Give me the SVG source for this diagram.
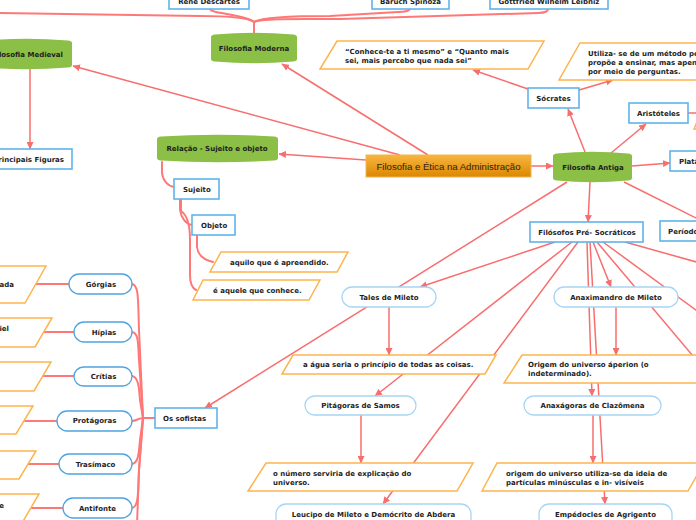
<svg xmlns="http://www.w3.org/2000/svg" width="696" height="520" viewBox="0 0 696 520">
<defs>
<linearGradient id="gMain" x1="0" y1="0" x2="0" y2="1">
<stop offset="0" stop-color="#f7b640"/><stop offset="1" stop-color="#dc8700"/>
</linearGradient>
<marker id="arr" markerUnits="userSpaceOnUse" markerWidth="8" markerHeight="7" refX="7" refY="3.5" orient="auto">
<path d="M0,0 L7.5,3.5 L0,7 z" fill="#f86e6e"/>
</marker>
</defs>
<style>
.t{font-family:"DejaVu Sans",Verdana,sans-serif;font-weight:bold;font-size:7px;fill:#1e1e1e}
.c{text-anchor:middle}
.e{text-anchor:end}
.box{fill:#fff;stroke:#5fb3ea;stroke-width:1.6}
.pill{fill:#fff;stroke:#a8d5f4;stroke-width:1.3}
.pill2{fill:#fff;stroke:#4ea4e2;stroke-width:1.3}
.para{fill:#fff;stroke:#fdb44c;stroke-width:1.5}
.green{fill:#8bbf46}
.ln{fill:none;stroke:#f86e6e;stroke-width:1.5;marker-end:url(#arr)}
.pl{fill:none;stroke:#f86e6e;stroke-width:1.5}
.tr{fill:none;stroke:#ff7878;stroke-width:2;stroke-linecap:round}
</style>

<g id="connectors">
<path class="ln" d="M400,155 L73,66"/>
<path class="ln" d="M428,155 L282,64"/>
<path class="ln" d="M366,160 L279,154"/>
<path class="ln" d="M531,166 L553,166"/>
<path class="ln" d="M585,152 L568,109"/>
<path class="ln" d="M611,153 L646,124"/>
<path class="ln" d="M632,166 L670,163"/>
<path class="pl" d="M624,182 L700,220"/>
<path class="ln" d="M590,182 L588,222"/>
<path class="ln" d="M567,182 L205,408"/>
<path class="ln" d="M528,89 L473,70"/>
<path class="ln" d="M579,90 L613,80"/>
<path class="pl" d="M688,113 L700,113"/>
<path class="ln" d="M555,242 L420,287"/>
<path class="ln" d="M572,242 L375,396"/>
<path class="ln" d="M578,242 L383,504"/>
<path class="ln" d="M587,242 L592,396"/>
<path class="ln" d="M590,242 L605,504"/>
<path class="ln" d="M593,242 L611,287"/>
<path class="pl" d="M597,242 L740,412"/>
<path class="pl" d="M603,242 L700,313"/>
<path class="pl" d="M625,242 L700,263"/>
<path class="ln" d="M389,307 L389,355"/>
<path class="ln" d="M361,415 L361,463"/>
<path class="ln" d="M616,307 L616,355"/>
<path class="ln" d="M593,415 L593,463"/>
<path class="ln" d="M30,69 L30,149"/>
<!-- Filosofia Moderna tree -->
<path class="tr" d="M254,33 L254,22"/>
<path class="tr" d="M210,9 C211,14 245,14 254,22"/>
<path class="tr" d="M254,22 C248,17 225,16 200,16 L-5,13"/>
<path class="tr" d="M254,22 C262,17 300,16 330,16 L398,12 C405,12 409,11 410,9"/>
<path class="tr" d="M254,22 C262,18 300,19 340,19 L538,13 C545,13 548,11 548,9"/>
<!-- Relação tree -->
<path class="tr" d="M162,162 L162,173 C163,181 168,186 174,187"/>
<path class="tr" d="M180,199 L180,210 C181,218 186,224 192,225"/>
<path class="tr" d="M181,199 L181,211 C187,215 190,224 190,240 L190,275 C190,283 192,288 196,290"/>
<path class="tr" d="M197,235 L197,247 C198,255 204,260 213,262"/>
<!-- Os sofistas tree -->
<path class="tr" d="M155,418 L143,418"/>
<path class="tr" d="M132,284 C139,285 138,300 139,330 L143,418"/>
<path class="tr" d="M132,332 C139,333 138,345 139,360 L143,418"/>
<path class="tr" d="M132,376 C139,377 139,390 140,400 L143,418"/>
<path class="tr" d="M132,421 C136,421 139,418 143,418"/>
<path class="tr" d="M132,464 C139,463 139,450 140,440 L143,418"/>
<path class="tr" d="M132,508 C139,507 138,490 139,470 L143,418"/>
<path class="tr" d="M143,418 L139,470 L137,525"/>
<path class="tr" d="M69,284 L36,284"/>
<path class="tr" d="M74,332 L44,332"/>
<path class="tr" d="M74,376 L43,376"/>
<path class="tr" d="M57,421 L25,421"/>
<path class="tr" d="M59,464 L28,464"/>
<path class="tr" d="M63,508 L31,508"/>
</g>

<g id="n-main">
<rect x="366" y="155" width="165" height="22" fill="url(#gMain)" stroke="#f0b650" stroke-width="1"/>
<text x="448.5" y="169.5" text-anchor="middle" font-family="'Liberation Sans',Arial,sans-serif" font-size="9.6" fill="#2e2410">Filosofia e Ética na Administração</text>
</g>

<g id="n-antiga">
<path class="green" d="M553,156 Q553,154 557,153.5 Q592,150 628,153.5 Q632,154 632,156 L632,178 Q632,180 628,180.5 Q592,184 557,180.5 Q553,180 553,178 Z"/>
<text class="t c" x="593" y="169.5">Filosofia Antiga</text>
</g>
<g id="n-moderna">
<path class="green" d="M211,37 Q211,35 215,34.5 Q254,31 293,34.5 Q297,35 297,37 L297,59 Q297,61 293,61.5 Q254,65 215,61.5 Q211,61 211,59 Z"/>
<text class="t c" x="254" y="50.5">Filosofia Moderna</text>
</g>
<g id="n-medieval">
<path class="green" d="M-20,43 Q-20,41 -16,40.5 Q26,37 68,40.5 Q72,41 72,43 L72,65 Q72,67 68,67.5 Q26,71 -16,67.5 Q-20,67 -20,65 Z"/>
<text class="t e" x="63" y="56.5">Filosofia Medieval</text>
</g>
<g id="n-principais">
<rect class="box" x="-20" y="149" width="92" height="20"/>
<text class="t e" x="64" y="161.5">Principais Figuras</text>
</g>
<g id="n-relacao">
<path class="green" d="M157,139 Q157,137 161,136.5 Q217,133 274,136.5 Q278,137 278,139 L278,158 Q278,160 274,160.5 Q217,164 161,160.5 Q157,160 157,158 Z"/>
<text class="t c" x="217" y="150.5">Relação - Sujeito e objeto</text>
</g>
<g id="n-sujeito">
<rect class="box" x="174" y="179" width="45" height="20"/>
<text class="t" x="183" y="191.5">Sujeito</text>
</g>
<g id="n-objeto">
<rect class="box" x="192" y="215" width="43" height="20"/>
<text class="t" x="201" y="227.5">Objeto</text>
</g>
<g id="n-aquilo">
<polygon class="para" points="221,252 348,252 337,272 210,272"/>
<text class="t" x="230" y="265">aquilo que é apreendido.</text>
</g>
<g id="n-aquele">
<polygon class="para" points="203,280 320,280 309,300 193,300"/>
<text class="t" x="213" y="292.5">é aquele que conhece.</text>
</g>

<g id="n-descartes">
<rect class="box" x="169" y="-6" width="80" height="15"/>
<text class="t c" x="209" y="3.5">René Descartes</text>
</g>
<g id="n-spinoza">
<rect class="box" x="372" y="-6" width="77" height="15"/>
<text class="t c" x="410.5" y="3.5">Baruch Spinoza</text>
</g>
<g id="n-leibniz">
<rect class="box" x="490" y="-6" width="118" height="15"/>
<text class="t c" x="549" y="3.5">Gottfried Wilhelm Leibniz</text>
</g>

<g id="n-conhece">
<polygon class="para" points="337,41 544,41 528,69 320,69"/>
<text class="t" x="345" y="53.5">“Conhece-te a ti mesmo” e “Quanto mais</text>
<text class="t" x="345" y="62.5">sei, mais percebo que nada sei”</text>
</g>
<g id="n-utiliza">
<polygon class="para" points="580,43 780,43 759,80 559,80"/>
<text class="t" x="588" y="55.5">Utiliza- se de um método pelo</text>
<text class="t" x="588" y="64.5">propõe a ensinar, mas apenas</text>
<text class="t" x="588" y="73.5">por meio de perguntas.</text>
</g>
<g id="n-socrates">
<rect class="box" x="528" y="88" width="51" height="20"/>
<text class="t c" x="553.5" y="100.5">Sócrates</text>
</g>
<g id="n-aristoteles">
<rect class="box" x="629" y="103" width="59" height="20"/>
<text class="t c" x="658.5" y="115.5">Aristóteles</text>
</g>
<g id="n-arist-note">
<polygon class="para" points="706,100 900,100 880,129 694,129"/>
</g>
<g id="n-platao">
<rect class="box" x="670" y="151" width="60" height="20"/>
<text class="t" x="679" y="163.5">Platão</text>
</g>
<g id="n-periodo">
<rect class="box" x="660" y="221" width="70" height="20"/>
<text class="t" x="668" y="233.5">Período</text>
</g>
<g id="n-presocraticos">
<rect class="box" x="530" y="222" width="113" height="20"/>
<text class="t c" x="587" y="234.5">Filósofos Pré- Socráticos</text>
</g>

<g id="n-tales">
<rect class="pill" x="342" y="287" width="94" height="20" rx="10"/>
<text class="t c" x="389" y="299.5">Tales de Mileto</text>
</g>
<g id="n-agua">
<polygon class="para" points="293,355 496,355 485,374 282,374"/>
<text class="t" x="303" y="367">a água seria o princípio de todas as coisas.</text>
</g>
<g id="n-pitagoras">
<rect class="pill" x="305" y="396" width="111" height="19" rx="9.5"/>
<text class="t c" x="360.5" y="408">Pitágoras de Samos</text>
</g>
<g id="n-numero">
<polygon class="para" points="266,463 473,463 457,491 248,491"/>
<text class="t" x="273" y="475.5">o número serviria de explicação do</text>
<text class="t" x="273" y="484.5">universo.</text>
</g>
<g id="n-leucipo">
<rect class="pill" x="276" y="504" width="195" height="26" rx="10"/>
<text class="t c" x="373.5" y="517">Leucipo de Mileto e Demócrito de Abdera</text>
</g>

<g id="n-anaximandro">
<rect class="pill" x="554" y="287" width="124" height="20" rx="10"/>
<text class="t c" x="616" y="299.5">Anaximandro de Mileto</text>
</g>
<g id="n-aperion">
<polygon class="para" points="522,355 780,355 762,383 504,383"/>
<text class="t" x="528" y="366.5">Origem do universo áperion (o</text>
<text class="t" x="528" y="375.5">indeterminado).</text>
</g>
<g id="n-anaxagoras">
<rect class="pill" x="524" y="396" width="137" height="19" rx="9.5"/>
<text class="t c" x="592.5" y="408">Anaxágoras de Clazômena</text>
</g>
<g id="n-particulas">
<polygon class="para" points="497,463 704,463 688,491 482,491"/>
<text class="t" x="506" y="475.5">origem do universo utiliza-se da ideia de</text>
<text class="t" x="506" y="484.5">partículas minúsculas e in- visíveis</text>
</g>
<g id="n-empedocles">
<rect class="pill" x="539" y="504" width="133" height="26" rx="10"/>
<text class="t c" x="605.5" y="517">Empédocles de Agrigento</text>
</g>

<g id="n-sofistas">
<rect class="box" x="155" y="408" width="62" height="20"/>
<text class="t" x="163" y="420.5">Os sofistas</text>
</g>
<g id="n-gorgias">
<rect class="pill2" x="69" y="274" width="63" height="20" rx="10"/>
<text class="t c" x="101" y="286.8">Górgias</text>
</g>
<g id="n-gorgias-note">
<polygon class="para" points="-60,266 46,266 25,303 -80,303"/>
<text class="t e" x="14" y="286.8">rada</text>
</g>
<g id="n-hipias">
<rect class="pill2" x="74" y="322" width="58" height="20" rx="10"/>
<text class="t c" x="104" y="334.8">Hípias</text>
</g>
<g id="n-hipias-note">
<polygon class="para" points="-60,318 52,318 35,347 -80,347"/>
<text class="t e" x="9" y="330.5">iel</text>
</g>
<g id="n-critias">
<rect class="pill2" x="74" y="367" width="58" height="19" rx="9.5"/>
<text class="t c" x="103.5" y="378.8">Crítias</text>
</g>
<g id="n-critias-note">
<polygon class="para" points="-60,362 51,362 34,391 -80,391"/>
</g>
<g id="n-protagoras">
<rect class="pill2" x="57" y="411" width="75" height="20" rx="10"/>
<text class="t c" x="94.5" y="422.8">Protágoras</text>
</g>
<g id="n-protagoras-note">
<polygon class="para" points="-60,406 33,406 16,434 -80,434"/>
</g>
<g id="n-trasimaco">
<rect class="pill2" x="59" y="454" width="73" height="20" rx="10"/>
<text class="t c" x="95.5" y="466.8">Trasímaco</text>
</g>
<g id="n-trasimaco-note">
<polygon class="para" points="-60,451 36,451 19,479 -80,479"/>
</g>
<g id="n-antifonte">
<rect class="pill2" x="63" y="498" width="69" height="20" rx="10"/>
<text class="t c" x="97.5" y="510.8">Antifonte</text>
</g>
<g id="n-antifonte-note">
<polygon class="para" points="-60,494 39,494 22,523 -80,523"/>
<text class="t e" x="4" y="507.5">e</text>
</g>
</svg>
